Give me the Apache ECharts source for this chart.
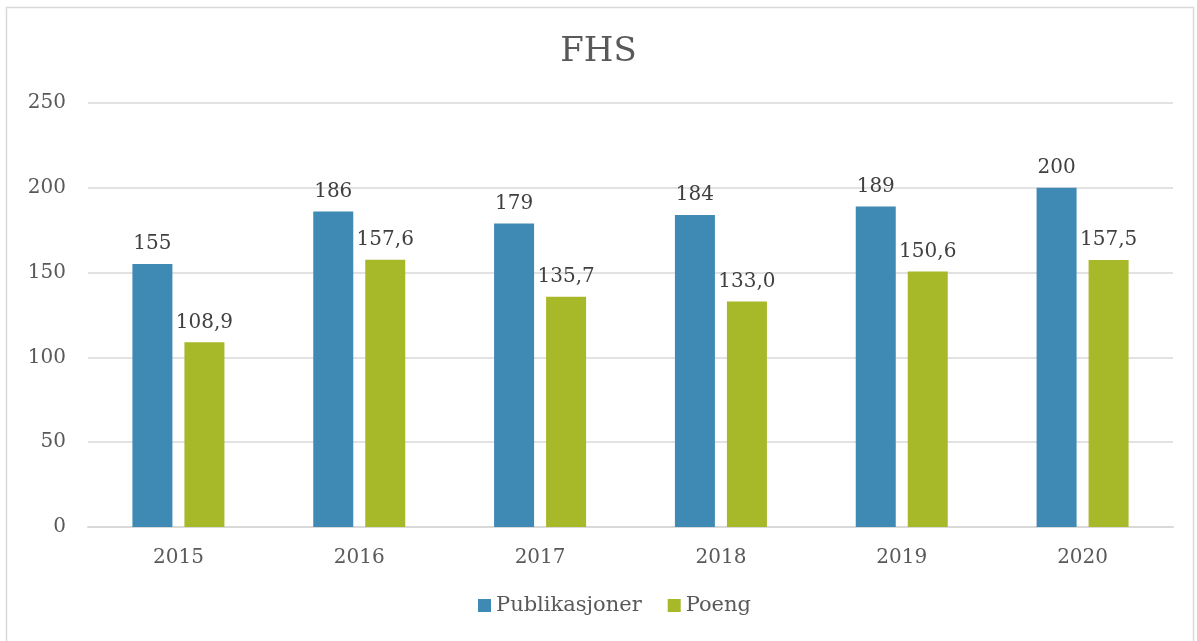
<!DOCTYPE html>
<html>
<head>
<meta charset="utf-8">
<script src="https://cdn.jsdelivr.net/npm/echarts@6/dist/echarts.min.js"></script>
<style>
  html, body { margin: 0; padding: 0; background: #fff; }
  #main { width: 1197px; height: 641px; }
</style>
</head>
<body>
<div id="main"></div>
<script>
// data
const years = ['2015', '2016', '2017', '2018', '2019', '2020'];
const publikasjoner = [155, 186, 179, 184, 189, 200];
const poeng = [108.9, 157.6, 135.7, 133.0, 150.6, 157.5];

const serif = 'DejaVu Serif';
const fmtComma = v => v.toFixed(1).replace('.', ',');

const chart = echarts.init(document.getElementById('main'));
chart.setOption({
    backgroundColor: '#fff',
    animation: false,
    title: {
        text: 'FHS',
        left: 'center',
        top: 30,
        textStyle: { fontFamily: serif, fontSize: 34, fontWeight: 'normal', color: '#595959' }
    },
    graphic: [{
        type: 'rect',
        shape: { x: 6.5, y: 7.5, width: 1187, height: 640 },
        style: { fill: 'none', stroke: '#d9d9d9', lineWidth: 1.5 },
        silent: true
    }],
    legend: {
        bottom: 20,
        left: 473,
        itemWidth: 13,
        itemHeight: 13,
        itemGap: 26,
        icon: 'rect',
        textStyle: { fontFamily: serif, fontSize: 21, color: '#595959' },
        data: ['Publikasjoner', 'Poeng']
    },
    grid: { left: 88, right: 24, top: 103, bottom: 114 },
    xAxis: {
        type: 'category',
        data: years,
        axisLine: { lineStyle: { color: '#d9d9d9', width: 2 } },
        axisTick: { show: false },
        axisLabel: { fontFamily: serif, fontSize: 20, color: '#595959', margin: 21 }
    },
    yAxis: {
        type: 'value',
        min: 0,
        max: 250,
        interval: 50,
        axisLine: { show: false },
        axisTick: { show: false },
        splitLine: { lineStyle: { color: '#d9d9d9', width: 1.5 } },
        axisLabel: { fontFamily: serif, fontSize: 20, color: '#595959', margin: 22 }
    },
    series: [
        {
            name: 'Publikasjoner',
            type: 'bar',
            data: publikasjoner,
            barWidth: 40,
            barGap: '30%',
            itemStyle: { color: '#3f89b5' },
            label: {
                show: true,
                position: 'top',
                distance: 10,
                fontFamily: serif,
                fontSize: 20,
                color: '#404040'
            }
        },
        {
            name: 'Poeng',
            type: 'bar',
            data: poeng,
            barWidth: 40,
            itemStyle: { color: '#a7b829' },
            label: {
                show: true,
                position: 'top',
                distance: 10,
                fontFamily: serif,
                fontSize: 20,
                color: '#404040',
                formatter: p => fmtComma(p.value)
            }
        }
    ]
});
</script>
</body>
</html>
